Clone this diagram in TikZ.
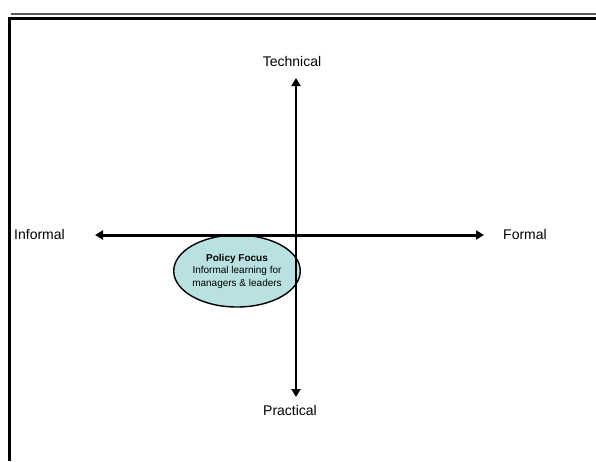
\documentclass[tikz,border=0pt]{standalone}
\usepackage{fontspec}
\setmainfont{Liberation Sans}
\usetikzlibrary{arrows.meta,shapes.geometric}
\definecolor{ellfill}{RGB}{185,225,225}
\tikzset{
  axis/.style={line width=3pt, {Triangle[length=8pt,width=9pt]}-{Triangle[length=8pt,width=9pt]}},
  lbl/.style={font=\fontsize{14}{16}\selectfont, inner sep=0pt},
  focus/.style={ellipse, draw, line width=1.4pt, fill=ellfill, minimum width=126pt, minimum height=72pt, inner sep=0pt, align=center, font=\fontsize{10}{12.5}\selectfont}
}
\begin{document}
\begin{tikzpicture}[x=1pt,y=-1pt]
\useasboundingbox (0,0) rectangle (596,461);
\fill[white] (0,0) rectangle (596,461);
% frame
\draw[line width=2pt, gray!70!black] (11,13.5) -- (596,13.5);
\draw[line width=3pt] (8,18.5) -- (596,18.5);
\draw[line width=3pt] (9.5,17) -- (9.5,461);
% ellipse
\node[focus] (pf) at (237,271) {\textbf{Policy Focus}\\Informal learning for\\ managers \& leaders};
% endpoints
\coordinate (L) at (95,235);
\coordinate (R) at (484,235);
\coordinate (T) at (296,78);
\coordinate (B) at (296,397);
\draw[axis] (L) -- (R);
\draw[axis, line width=2.6pt] (T) -- (B);
% labels
\node[lbl] (tech) at (292,61) {Technical};
\node[lbl] (prac) at (290,410) {Practical};
\node[lbl, anchor=west] (inf) at (14,234) {Informal};
\node[lbl, anchor=west] (form) at (503,234) {Formal};
\end{tikzpicture}
\end{document}
